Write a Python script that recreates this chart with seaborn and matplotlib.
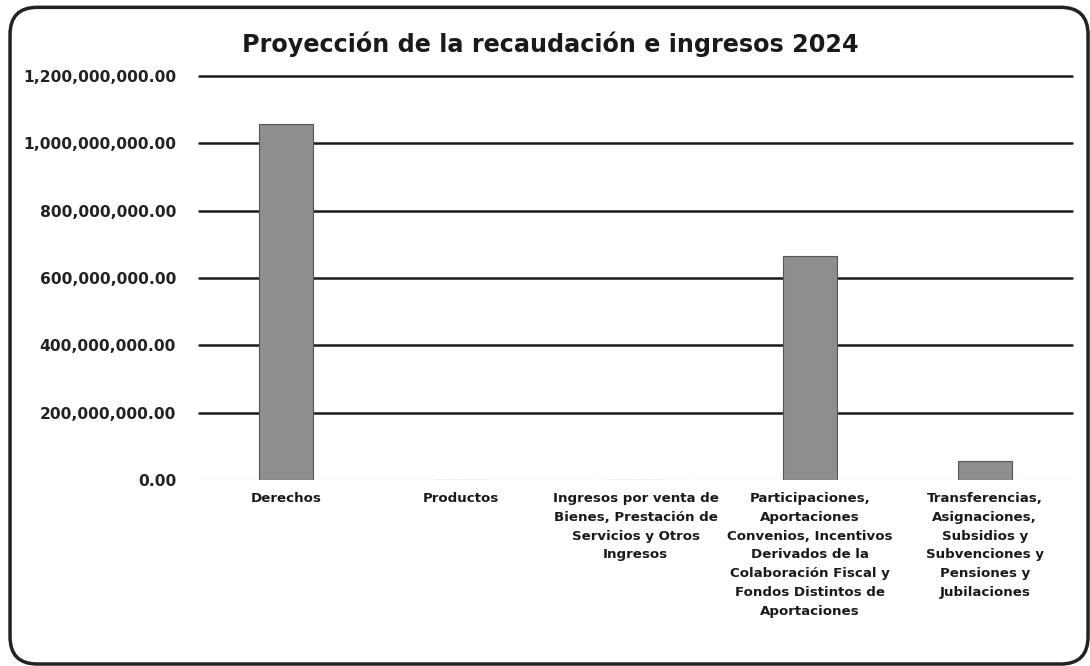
import matplotlib
matplotlib.use("Agg")
import matplotlib.pyplot as plt
import seaborn as sns
from matplotlib.patches import FancyBboxPatch
from matplotlib.ticker import FuncFormatter

# data
categorias = [
    "Derechos",
    "Productos",
    "Ingresos por venta de\nBienes, Prestación de\nServicios y Otros\nIngresos",
    "Participaciones,\nAportaciones\nConvenios, Incentivos\nDerivados de la\nColaboración Fiscal y\nFondos Distintos de\nAportaciones",
    "Transferencias,\nAsignaciones,\nSubsidios y\nSubvenciones y\nPensiones y\nJubilaciones",
]
montos = [1057000000, 0, 0, 665000000, 56000000]
y_ticks = [0, 200000000, 400000000, 600000000, 800000000, 1000000000, 1200000000]

sns.set_theme(style="white")
plt.rcParams["font.family"] = ["DejaVu Sans"]

fig = plt.figure(figsize=(10.9, 6.66), dpi=100)
ax = fig.add_axes([0.1826, 0.2793, 0.8009, 0.6066])

sns.barplot(x=categorias, y=montos, color="#8e8e8e", width=0.31,
            edgecolor="#555555", linewidth=0.8, saturation=1, ax=ax, zorder=3)

ax.set_ylim(0, 1200000000)
ax.set_yticks(y_ticks)
ax.yaxis.set_major_formatter(FuncFormatter(lambda v, p: f"{v:,.2f}"))
for v in y_ticks[1:]:
    ax.axhline(v, color="#1a1a1a", linewidth=1.8, zorder=2, clip_on=False)
ax.axhline(0, color="#888888", linewidth=0.9, linestyle=":", zorder=4)

for s in ax.spines.values():
    s.set_visible(False)
ax.tick_params(axis="y", length=0, pad=16.5)
ax.tick_params(axis="x", length=0, pad=8.5)
for lab in ax.get_yticklabels():
    lab.set_fontweight("bold")
    lab.set_fontsize(11.2)
    lab.set_color("#222222")
for lab in ax.get_xticklabels():
    lab.set_fontweight("bold")
    lab.set_fontsize(9.6)
    lab.set_color("#1a1a1a")
    lab.set_linespacing(1.59)
    lab.set_verticalalignment("top")
ax.set_xlabel("")
ax.set_ylabel("")

fig.text(0.5046, 0.934, "Proyección de la recaudación e ingresos 2024",
         ha="center", va="center", fontsize=17.2, fontweight="bold",
         color="#1a1a1a")

frame = FancyBboxPatch((0.0092, 0.003), 0.989, 0.986, transform=fig.transFigure,
                       boxstyle="round,pad=0,rounding_size=0.025",
                       fill=False, edgecolor="#222222", linewidth=2.5,
                       mutation_aspect=1090 / 666)
fig.patches.append(frame)

fig.savefig("out.png", dpi=100)
